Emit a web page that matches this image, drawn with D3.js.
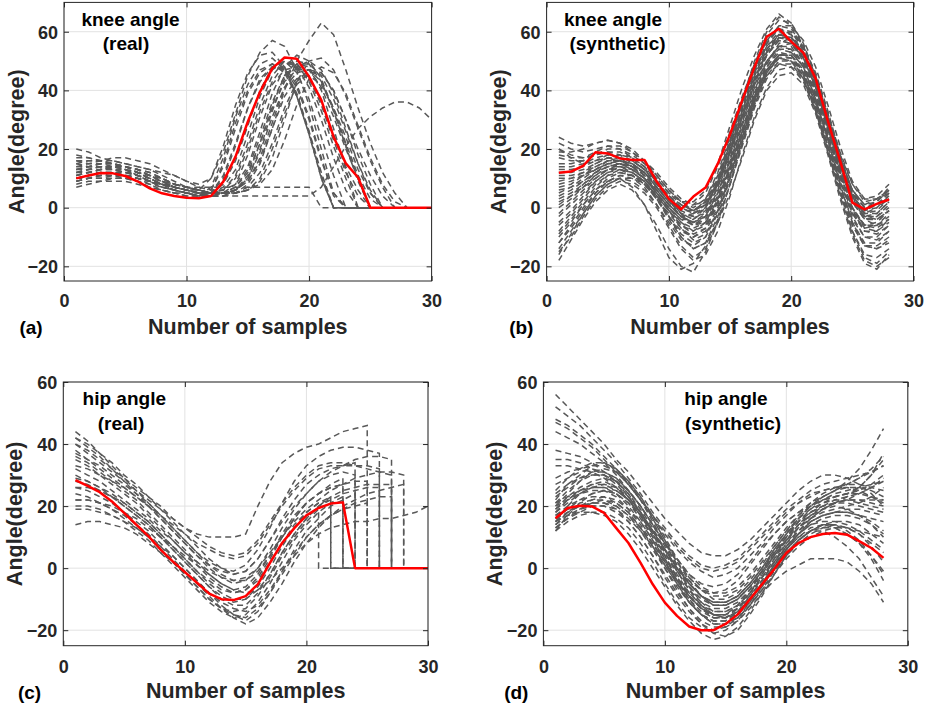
<!DOCTYPE html>
<html>
<head>
<meta charset="utf-8">
<script src="https://cdn.jsdelivr.net/npm/d3@7"></script>
<style>
  body { margin: 0; background: #fff; }
  svg { display: block; font-family: "Liberation Sans", Arial, Helvetica, sans-serif; font-weight: bold; }
</style>
</head>
<body>
<svg id="fig" width="927" height="709"></svg>
<script>
// ---------- tick values ----------
const xTicks = [0, 10, 20, 30];
const yTicks = [-20, 0, 20, 40, 60];

// ---------- knee angle, real gait cycles (samples 1..30, zero padded) ----------
const kneeRealGrey = [
  [10,11,12,12,11,10,8,6,5,4,4,6,14,27,39,46,49,47,39,26,10,0,0,0,0,0,0,0,0,0],
  [12,13,14,14,13,11,9,7,6,5,4,5,11,22,34,43,48,48,42,31,17,4,0,0,0,0,0,0,0,0],
  [15,16,16,15,14,12,10,8,6,5,4,5,10,21,34,44,48,47,41,30,16,5,0,0,0,0,0,0,0,0],
  [9,10,11,11,10,9,7,6,5,4,4,6,15,29,40,47,49,46,38,26,12,0,0,0,0,0,0,0,0,0],
  [18,17,16,15,14,13,11,9,7,6,6,10,21,35,46,52,53,48,38,25,10,0,0,0,0,0,0,0,0,0],
  [8,9,9,9,9,8,7,6,5,5,4,4,5,8,18,31,42,47,48,44,35,23,12,4,0,0,0,0,0,0],
  [20,19,17,16,15,14,13,11,9,7,6,5,6,10,20,33,43,49,49,45,36,25,14,6,0,0,0,0,0,0],
  [11,12,13,13,12,11,9,7,6,5,4,4,5,7,12,22,34,43,47,47,41,31,20,10,0,0,0,0,0,0],
  [13,14,15,15,14,12,10,8,7,6,5,5,5,6,10,19,31,41,46,47,43,34,22,11,3,0,0,0,0,0],
  [10,10,11,12,12,12,11,10,8,7,6,5,5,6,9,16,27,38,44,45,42,34,24,13,5,0,0,0,0,0],
  [14,15,16,17,17,16,15,13,11,9,7,6,6,8,14,26,39,48,52,50,44,33,21,10,0,0,0,0,0,0],
  [16,16,16,16,15,14,13,12,11,9,8,10,19,32,45,53,57,55,47,35,20,5,0,0,0,0,0,0,0,0],
  [9,10,10,10,10,9,8,7,6,5,5,5,5,5,6,10,20,32,42,46,46,40,30,20,11,4,0,0,0,0],
  [12,13,14,14,14,13,12,10,8,7,6,5,5,5,6,9,17,30,43,50,51,47,38,27,16,7,0,0,0,0],
  [10,11,12,12,11,10,9,8,7,6,5,4,4,5,8,15,27,40,50,57,63,59,47,34,22,12,5,0,0,0],
  [11,12,12,12,11,10,9,8,8,7,7,7,7,7,7,7,7,7,7,7,0,0,0,0,0,0,0,0,0,0],
  [14,14,14,13,12,11,10,8,7,6,5,4,4,4,4,4,4,4,4,4,7,14,21,27,31,34,36,36,34,30],
  [7,8,9,10,10,10,9,8,7,6,5,5,5,6,10,20,33,44,49,48,40,27,13,0,0,0,0,0,0,0],
  [17,17,16,15,13,11,9,7,6,5,4,7,17,31,42,49,51,47,38,25,11,0,0,0,0,0,0,0,0,0],
  [13,13,13,13,12,11,9,8,6,5,4,4,4,6,11,22,35,45,50,49,43,33,21,9,0,0,0,0,0,0],
  [10,11,11,11,11,10,9,8,7,6,5,5,5,5,7,12,22,34,43,47,46,40,30,18,8,0,0,0,0,0],
  [15,14,14,13,13,12,11,10,8,7,6,5,6,11,22,35,45,50,49,43,33,21,10,0,0,0,0,0,0,0],
  [12,12,13,14,14,13,12,10,8,7,6,5,5,6,9,17,29,41,48,50,47,39,27,15,6,0,0,0,0,0],
  [9,10,10,11,11,11,10,9,8,7,6,5,5,5,6,8,13,23,35,44,48,46,39,28,17,8,2,0,0,0],
  [13,14,15,15,14,13,11,9,7,6,5,5,8,16,28,40,48,50,46,37,24,11,0,0,0,0,0,0,0,0],
  [11,12,13,14,13,12,10,8,7,6,5,5,7,13,25,38,47,50,48,41,30,17,6,0,0,0,0,0,0,0],
  [16,15,15,14,13,12,11,9,8,7,6,5,5,7,13,24,36,45,49,49,45,37,26,15,5,0,0,0,0,0]
];
const kneeRealRed = [10,11,11.8,11.7,10.8,9,6.6,4.9,4,3.4,3.2,4,8.9,17.4,29.3,39.5,47.5,51.2,50.8,44.7,36.7,24.2,15.1,10.3,0,0,0,0,0,0];

// ---------- knee angle, synthetic cycles (samples 1..28) ----------
const kneeSynGrey = [
  [22,20,19,20,21,20,17,13,8,3,0,1,5,14,26,38,49,57,61,59,53,43,30,17,6,1,3,6],
  [17,16,16,18,19,18,15,11,6,1,-3,-2,3,12,24,36,47,55,59,57,51,41,28,14,3,-2,0,4],
  [24,22,21,22,23,22,19,15,10,5,2,2,6,15,28,41,52,61,66,63,55,44,30,16,5,0,2,7],
  [13,13,14,16,17,16,14,10,5,0,-4,-4,0,9,21,34,46,55,60,59,53,43,29,15,4,-1,1,5],
  [8,9,11,14,16,16,14,11,6,1,-3,-5,-2,7,19,32,44,53,58,57,51,40,27,13,2,-4,-3,1],
  [20,18,17,18,20,20,18,15,11,6,2,-1,1,8,19,31,43,52,57,56,51,42,30,18,8,3,3,5],
  [18,17,17,19,21,21,19,16,12,7,3,1,2,9,21,34,46,56,62,62,57,48,35,21,9,3,4,8],
  [4,6,9,12,14,15,13,10,5,0,-4,-6,-3,6,18,31,43,52,57,56,50,39,25,11,0,-6,-5,-1],
  [0,3,7,11,14,15,14,11,6,1,-3,-5,-3,5,16,29,41,50,55,54,48,37,23,9,-2,-7,-6,-2],
  [-5,-1,4,9,12,13,12,9,4,-1,-6,-8,-5,3,15,28,40,50,55,55,49,38,24,10,-2,-8,-8,-4],
  [-10,-5,1,6,10,12,11,8,3,-3,-8,-10,-7,2,14,27,39,48,53,52,46,35,21,7,-4,-10,-10,-6],
  [-14,-8,-2,4,8,10,9,6,1,-5,-11,-13,-10,-1,11,24,37,47,52,52,46,35,21,7,-5,-12,-12,-8],
  [-18,-11,-4,2,6,8,6,1,-6,-14,-20,-22,-15,-5,8,22,35,45,50,50,45,34,20,5,-8,-16,-17,-14],
  [-16,-9,-2,4,8,10,7,1,-8,-17,-21,-19,-13,-4,8,21,34,44,49,49,44,33,19,4,-9,-18,-20,-17],
  [-8,-3,2,7,11,13,12,9,3,-4,-10,-14,-12,-3,10,23,36,46,51,51,46,36,23,9,-3,-10,-11,-8],
  [-12,-6,0,5,9,11,10,7,1,-6,-13,-17,-14,-5,8,22,35,46,52,53,48,37,23,8,-5,-13,-14,-11],
  [5,7,10,13,15,16,15,12,7,2,-2,-3,0,8,20,33,45,54,59,58,52,42,28,14,3,-3,-3,0],
  [12,12,13,15,17,17,16,13,9,4,0,-2,0,8,20,33,45,54,59,58,52,41,27,13,2,-3,-2,2],
  [2,4,7,10,13,14,13,10,5,0,-5,-7,-5,3,14,26,38,47,52,52,47,37,24,11,0,-6,-7,-4],
  [15,15,16,18,19,19,17,14,9,4,0,-2,1,9,22,36,49,59,64,63,56,45,31,17,6,1,2,6],
  [10,10,11,13,15,15,13,10,6,1,-3,-5,-3,4,14,26,38,47,51,50,45,36,24,12,2,-4,-4,-1],
  [-3,1,5,9,12,14,13,10,5,-1,-6,-9,-7,1,13,26,39,49,55,56,51,41,27,12,0,-7,-8,-5],
  [6,7,9,12,14,14,12,9,4,-1,-5,-8,-6,2,13,25,37,45,49,48,43,33,21,9,-1,-6,-6,-3],
  [-6,-2,3,8,11,12,11,8,3,-3,-9,-12,-10,-2,10,23,36,46,51,50,44,33,19,5,-6,-13,-14,-12],
  [19,19,20,22,23,22,20,16,11,6,2,0,3,11,23,36,48,57,62,61,55,45,32,19,8,2,3,6],
  [9,10,12,15,17,18,17,14,9,3,-2,-4,-1,7,19,32,44,53,58,57,52,42,29,15,4,-2,-1,3],
  [-12,-7,-1,5,9,11,11,9,4,-3,-10,-14,-12,-5,5,17,30,40,45,46,42,32,18,3,-10,-19,-21,-16],
  [1,4,8,12,15,16,15,12,7,2,-3,-6,-4,4,16,29,42,52,58,58,53,43,30,16,4,-3,-4,-1],
  [20,17,15,16,18,17,14,12,7,4,1,-1,2,10,23,37,50,60,65,62,54,42,28,15,5,0,1,5],
  [-15,-10,-3,3,7,9,8,5,0,-7,-14,-18,-16,-8,4,18,31,41,47,48,44,34,21,6,-8,-17,-19,-15],
  [7,8,11,13,16,17,16,13,8,3,-1,-3,-2,5,17,30,43,53,59,60,55,46,33,18,5,-2,-2,2],
  [-9,-4,1,6,9,10,10,8,4,-1,-7,-11,-9,-1,11,24,37,47,52,51,45,34,20,6,-6,-13,-13,-10],
  [14,14,15,17,18,18,16,13,10,5,1,-1,1,8,19,31,42,50,54,53,48,39,27,14,4,-1,0,3],
  [3,5,8,11,13,13,11,8,3,-2,-7,-10,-8,0,12,25,38,48,54,54,49,39,26,12,-1,-8,-9,-6],
  [-2,2,6,10,13,15,14,12,8,3,-2,-6,-5,2,13,26,39,49,56,58,54,45,32,17,4,-4,-6,-4],
  [11,11,12,14,16,16,15,12,7,2,-1,-1,2,10,22,35,47,56,61,60,54,44,31,17,6,0,1,4]
];
const kneeSynRed = [11.9,12.3,14.3,18.9,18.5,16.8,16.3,16.3,8.9,3,-0.6,3.8,6.9,15,25,36.7,48,58.3,61,56.6,52.8,44,29.5,16,1.7,-0.6,1.3,2.8];

// ---------- hip angle, real cycles (recorded samples only; padded with zeros to 30) ----------
const hipRealGrey = [
  [40,37,34,31,28,25,22,19,16,13,11,10,10,10,11,20,28,34,37,39,40,42,44,45,46],
  [42,39,36,32,28,24,20,16,12,8,4,1,-1,-2,-1,3,9,15,20,24,28,31,33,35,36,36,35],
  [36,34,31,28,25,22,18,14,10,6,2,-1,-3,-4,-3,0,5,10,15,19,22,25,27,29,30,31,31,30],
  [44,41,37,33,29,25,21,17,13,9,5,2,0,-1,1,6,13,21,28,33,36,38,39,39,38,37],
  [38,35,32,29,26,23,20,16,12,8,4,0,-3,-5,-4,0,6,13,19,24,28,30,31,30],
  [32,30,28,25,22,19,16,12,9,5,2,-2,-5,-7,-6,-2,4,11,17,21,24,26,27],
  [28,27,25,23,20,17,14,10,6,2,-2,-6,-9,-11,-10,-6,0,7,13,18,21,23],
  [24,23,21,19,16,13,10,6,2,-2,-6,-10,-13,-14,-13,-9,-3,4,10,15,19],
  [35,33,30,27,24,21,17,13,9,5,1,-3,-6,-8,-7,-3,3,10,16,21,24,26,27,28,28],
  [30,28,26,23,20,17,14,10,6,2,-2,-6,-10,-12,-12,-8,-2,5,11,16,20,22,24,25,26,26],
  [20,20,19,17,15,12,9,5,1,-3,-7,-11,-14,-16,-15,-11,-5,2,9,14,18,21,23],
  [26,25,23,21,18,15,12,8,4,0,-4,-8,-12,-15,-17,-14,-8,-1,6,12,16,20,22,24],
  [14,15,15,14,13,11,8,5,2,-2,-6,-10,-13,-15,-16,-13,-8,-2,4,10,14,17,19,21,22,23,23],
  [22,22,21,19,17,14,11,7,3,-1,-5,-9,-13,-16,-18,-16,-11,-5,2,8,13,17,20,22,24,25,26,27],
  [40,38,35,32,29,26,23,20,16,13,10,7,5,4,5,9,15,21,26,30,33,34,34,33,32,31,30],
  [33,32,30,28,26,23,20,17,14,11,8,6,4,3,4,8,14,20,25,29,32,33,33,33,33,32],
  [19,19,18,17,15,13,10,7,4,0,-4,-8,-11,-13,-14,-12,-7,-1,5,10,14,17,19,20,21],
  [42,40,37,34,30,27,23,19,15,11,7,3,0,-2,-1,3,9,16,22,27,30,32,33,34],
  [26,26,25,23,21,18,15,11,7,3,-1,-5,-8,-10,-10,-7,-2,5,11,16,20,23,25,26,27,27,27],
  [22,22,21,20,18,16,13,10,7,4,1,-2,-5,-7,-8,-7,-4,0,4,8,11,13,14,15,15,16,16,17,18,20],
  [37,35,33,30,27,24,21,17,13,9,5,1,-2,-4,-4,-1,4,10,16,21,24,27,29],
  [29,28,26,24,21,18,15,11,7,3,-1,-4,-7,-8,-7,-4,2,8,14,18,21,22]
];
const hipRealRed = [28.4,26.5,24.5,21.5,17.8,14,10.3,6,2.2,-1.3,-4.7,-8.2,-10,-10.3,-9,-5.2,1.7,8.1,12.9,17,19.4,20.8,21.2,0,0,0,0,0,0,0];

// ---------- hip angle, synthetic cycles (samples 1..28) ----------
const hipSynGrey = [
  [56,52,48,44,40,35,31,26,21,16,12,8,5,4,4,6,9,13,17,21,25,28,30,30,29,27,24,20],
  [52,49,46,42,38,34,29,24,18,13,8,4,1,0,1,3,7,11,15,19,22,25,27,28,29,30,31,33],
  [48,46,43,40,36,32,27,22,17,11,6,2,-1,-3,-2,0,4,8,13,17,21,23,25,26,27,29,32,36],
  [44,42,40,37,34,30,25,20,14,8,3,-2,-5,-6,-5,-2,2,7,11,15,18,20,22,23,24,26,30,37],
  [38,37,36,34,31,28,23,18,12,6,0,-4,-7,-8,-7,-4,1,6,11,15,18,21,23,25,28,32,38,45],
  [25,29,32,34,34,32,28,22,15,8,1,-5,-9,-11,-11,-9,-5,0,5,9,13,16,19,21,23,26,30,35],
  [22,27,30,33,34,32,28,23,16,9,2,-4,-9,-12,-12,-10,-6,-1,4,9,13,16,18,19,20,21,23,26],
  [20,24,28,30,30,28,24,18,11,4,-3,-8,-12,-14,-14,-12,-8,-3,2,7,11,14,16,17,17,16,14,11],
  [18,22,25,27,28,26,22,17,10,3,-4,-9,-13,-15,-15,-12,-8,-3,3,8,12,15,17,18,19,19,18,17],
  [15,20,24,26,27,26,23,18,12,5,-2,-8,-12,-15,-16,-14,-10,-5,0,5,9,12,14,15,15,14,11,8],
  [12,17,21,24,25,24,21,16,10,3,-4,-10,-15,-18,-18,-16,-12,-7,-1,4,8,11,13,14,13,11,7,2],
  [14,18,21,22,22,20,17,12,6,0,-6,-11,-15,-17,-17,-15,-10,-5,1,6,10,13,14,14,12,9,4,-2],
  [16,18,20,21,21,19,15,10,4,-3,-9,-14,-18,-20,-19,-16,-11,-5,1,6,10,12,12,10,7,3,-3,-9],
  [13,16,19,21,22,21,18,13,7,0,-7,-13,-18,-21,-22,-20,-15,-9,-2,4,9,12,14,13,11,8,4,-1],
  [18,21,24,26,26,24,20,15,9,2,-5,-11,-15,-17,-17,-14,-9,-3,3,9,14,18,21,23,24,24,23,22],
  [17,20,22,23,23,21,18,13,7,1,-5,-10,-14,-16,-16,-13,-8,-2,4,10,15,19,22,24,25,26,27,28],
  [21,25,28,31,32,31,28,23,17,10,3,-3,-7,-10,-10,-8,-4,1,7,12,17,21,24,26,27,27,26,25],
  [15,17,18,18,17,15,11,6,0,-6,-12,-17,-21,-23,-22,-19,-14,-8,-2,4,9,12,14,14,13,11,8,5],
  [23,26,29,31,31,29,25,20,14,7,0,-6,-11,-14,-14,-12,-7,-1,5,11,16,20,23,25,26,26,25,23],
  [19,23,26,28,29,28,25,20,14,8,1,-5,-9,-12,-12,-10,-6,-1,5,10,15,18,20,21,21,20,19,18],
  [12,15,17,18,18,16,13,8,2,-5,-11,-16,-19,-21,-20,-17,-12,-6,0,6,11,15,17,18,18,17,15,12],
  [16,19,22,24,25,24,21,17,12,6,0,-5,-9,-11,-11,-9,-5,0,6,11,16,20,23,25,27,29,31,33],
  [29,31,32,33,33,31,27,22,16,9,3,-2,-6,-8,-8,-6,-2,3,8,13,17,20,22,23,24,25,27,30],
  [24,27,29,30,30,28,24,19,13,6,-1,-7,-11,-13,-13,-11,-7,-2,4,9,14,17,19,20,19,17,14,10],
  [14,17,19,20,20,18,15,10,4,-2,-8,-13,-17,-19,-19,-17,-13,-8,-4,-1,1,3,3,3,2,-1,-5,-11],
  [20,22,24,25,25,23,19,14,8,2,-4,-9,-13,-16,-16,-14,-10,-5,1,7,12,16,19,21,22,22,21,20],
  [33,33,32,31,29,26,22,17,11,5,-1,-6,-10,-12,-12,-10,-6,-1,5,10,14,17,19,21,22,24,26,29],
  [17,19,20,21,21,20,17,13,8,2,-4,-9,-13,-15,-15,-13,-9,-4,2,7,11,14,15,15,14,12,9,6],
  [47,45,42,39,35,31,27,22,17,12,7,3,0,-1,0,2,6,10,14,18,21,24,25,26,26,25,23,21],
  [13,16,18,20,20,19,16,12,7,1,-5,-11,-15,-18,-18,-16,-12,-7,-2,3,7,10,12,13,13,12,11,10],
  [19,22,25,27,27,25,22,17,11,4,-3,-9,-13,-15,-15,-13,-9,-4,2,8,13,17,20,22,23,24,26,28],
  [27,29,31,32,31,29,25,20,14,8,2,-3,-7,-9,-9,-7,-3,2,7,12,16,19,21,22,22,21,20,19],
  [15,18,20,22,23,22,19,15,9,3,-3,-9,-13,-16,-16,-14,-10,-5,0,5,9,12,13,13,11,8,3,-4],
  [35,35,34,32,30,27,23,18,12,6,0,-5,-9,-11,-11,-9,-5,0,6,11,15,18,20,21,22,22,22,22],
  [21,23,25,26,26,25,22,18,12,6,-1,-7,-12,-15,-16,-15,-11,-6,0,6,11,15,17,18,18,17,16,15]
];
const hipSynRed = [16.1,19.4,20.1,19.9,17.8,12.9,8.1,1.7,-5.2,-11.1,-15.4,-18.8,-20,-20,-18,-14.9,-10,-5.2,-0.4,4.9,8.1,10,11,11.3,10.8,8.7,6.5,3.3];

// ---------- panel layout ----------
const panels = [
  { tag: "(a)", title: ["knee angle", "(real)"], grey: kneeRealGrey, red: kneeRealRed, padDrop: false,
    box: { l: 64, r: 431.6, t: 2.4, b: 281 }, yDomain: [-25, 70],
    titleAt: [[130.5, 26], [126, 50]], tagAt: [31, 333.5], yLabelX: 23.5 },
  { tag: "(b)", title: ["knee angle", "(synthetic)"], grey: kneeSynGrey, red: kneeSynRed, padDrop: false,
    box: { l: 546.6, r: 913.5, t: 2.4, b: 281 }, yDomain: [-25, 70],
    titleAt: [[613, 26], [617.5, 50]], tagAt: [521.3, 333.5], yLabelX: 505.7 },
  { tag: "(c)", title: ["hip angle", "(real)"], grey: hipRealGrey, red: hipRealRed, padDrop: true,
    box: { l: 63.3, r: 428, t: 382, b: 645.7 }, yDomain: [-25, 60],
    titleAt: [[124.3, 405], [121, 430]], tagAt: [29.5, 699], yLabelX: 22.3 },
  { tag: "(d)", title: ["hip angle", "(synthetic)"], grey: hipSynGrey, red: hipSynRed, padDrop: false,
    box: { l: 543.4, r: 907.8, t: 382, b: 645.7 }, yDomain: [-25, 60],
    titleAt: [[726, 405], [733, 430]], tagAt: [516.3, 699], yLabelX: 501.7 }
];

const svg = d3.select("#fig");
svg.append("rect").attr("width", 927).attr("height", 709).attr("fill", "#fff");

// truncated recordings drop straight to zero at their last sample and stay at zero
function toPoints(vals, padDrop) {
  const pts = vals.map((v, i) => [i + 1, v]);
  if (padDrop && vals.length < 30) {
    pts.push([vals.length, 0], [30, 0]);
  }
  return pts;
}

panels.forEach(p => {
  const x = d3.scaleLinear().domain([0, 30]).range([p.box.l, p.box.r]);
  const y = d3.scaleLinear().domain(p.yDomain).range([p.box.b, p.box.t]);
  const g = svg.append("g");

  // grid
  g.append("g").selectAll("line").data(xTicks).join("line")
    .attr("x1", d => x(d)).attr("x2", d => x(d))
    .attr("y1", p.box.t).attr("y2", p.box.b)
    .attr("stroke", "#e2e2e2").attr("stroke-width", 1);
  g.append("g").selectAll("line").data(yTicks).join("line")
    .attr("x1", p.box.l).attr("x2", p.box.r)
    .attr("y1", d => y(d)).attr("y2", d => y(d))
    .attr("stroke", "#e2e2e2").attr("stroke-width", 1);

  const line = d3.line().x(d => x(d[0])).y(d => y(d[1]));

  // individual cycles
  g.append("g").selectAll("path").data(p.grey.map(v => toPoints(v, p.padDrop))).join("path")
    .attr("d", line)
    .attr("fill", "none")
    .attr("stroke", "#585858")
    .attr("stroke-width", 1.5)
    .attr("stroke-dasharray", "6,4");

  // highlighted cycle
  g.append("path")
    .attr("d", line(p.red.map((v, i) => [i + 1, v])))
    .attr("fill", "none")
    .attr("stroke", "#ff0000")
    .attr("stroke-width", 2.5)
    .attr("stroke-linejoin", "round");

  // axes with inward ticks on all four sides
  const styleTicks = sel => {
    sel.select(".domain").remove();
    sel.attr("font-size", null).attr("font-family", null);
    sel.selectAll(".tick line").attr("stroke", "#262626");
  };
  g.append("g").attr("transform", `translate(0,${p.box.b})`)
    .call(d3.axisBottom(x).tickValues(xTicks).tickSize(-5).tickSizeOuter(0))
    .call(styleTicks)
    .call(a => a.selectAll(".tick text").attr("y", p.box.t < 10 ? 26.3 : 27).attr("dy", null)
      .attr("font-size", 18).attr("fill", "#262626"));
  g.append("g").attr("transform", `translate(${p.box.l},0)`)
    .call(d3.axisLeft(y).tickValues(yTicks).tickSize(-5).tickSizeOuter(0).tickPadding(6))
    .call(styleTicks)
    .call(a => a.selectAll(".tick text").attr("dy", "0.35em")
      .attr("font-size", 18).attr("fill", "#262626"));
  g.append("g").attr("transform", `translate(0,${p.box.t})`)
    .call(d3.axisTop(x).tickValues(xTicks).tickSize(-5).tickSizeOuter(0).tickFormat(""))
    .call(styleTicks);
  g.append("g").attr("transform", `translate(${p.box.r},0)`)
    .call(d3.axisRight(y).tickValues(yTicks).tickSize(-5).tickSizeOuter(0).tickFormat(""))
    .call(styleTicks);

  // frame
  g.append("rect")
    .attr("x", p.box.l).attr("y", p.box.t)
    .attr("width", p.box.r - p.box.l).attr("height", p.box.b - p.box.t)
    .attr("fill", "none").attr("stroke", "#262626").attr("stroke-width", 1);

  // axis labels
  g.append("text")
    .attr("x", (p.box.l + p.box.r) / 2).attr("y", p.box.b + 52.5)
    .attr("text-anchor", "middle").attr("font-size", 21.5).attr("fill", "#262626")
    .text("Number of samples");
  g.append("text")
    .attr("transform", `translate(${p.yLabelX},${(p.box.t + p.box.b) / 2}) rotate(-90)`)
    .attr("text-anchor", "middle").attr("font-size", 21.5).attr("fill", "#262626")
    .text("Angle(degree)");

  // in-plot title
  p.title.forEach((t, i) => {
    g.append("text")
      .attr("x", p.titleAt[i][0]).attr("y", p.titleAt[i][1])
      .attr("text-anchor", "middle").attr("font-size", 19).attr("fill", "#000")
      .text(t);
  });

  // panel tag
  g.append("text")
    .attr("x", p.tagAt[0]).attr("y", p.tagAt[1])
    .attr("text-anchor", "middle").attr("font-size", 19).attr("fill", "#000")
    .text(p.tag);
});
</script>
</body>
</html>
